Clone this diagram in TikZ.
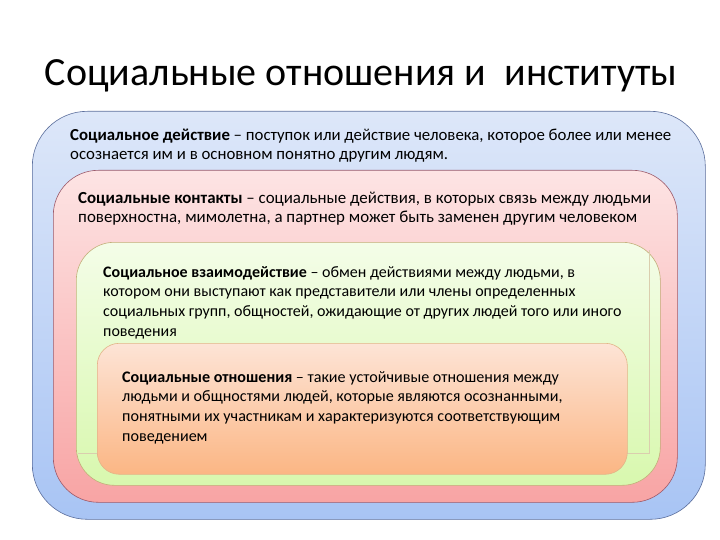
\documentclass[tikz,border=0pt]{standalone}
\usepackage{fontspec}
\setmainfont{Carlito}
\definecolor{bluetop}{HTML}{DDE7F9}
\definecolor{bluebot}{HTML}{A8C4F4}
\definecolor{blueline}{HTML}{5B6E9C}
\definecolor{pinktop}{HTML}{FDE4E4}
\definecolor{pinkbot}{HTML}{F8A4A4}
\definecolor{pinkline}{HTML}{9C5A6A}
\definecolor{greentop}{HTML}{F4FDE8}
\definecolor{greenbot}{HTML}{D8F8AE}
\definecolor{greenline}{HTML}{C2AE78}
\definecolor{orangetop}{HTML}{FDE4D6}
\definecolor{orangebot}{HTML}{FBB684}
\definecolor{orangeline}{HTML}{E2B488}
\newcommand{\toprule}{\rule{0pt}{14pt}}
\tikzset{
  layer/.style={anchor=north west, inner sep=0pt, draw, line width=0.6pt},
  deftext/.style={anchor=north west, inner sep=0pt, align=left,
    font=\fontsize{#1}{19.6}\selectfont}
}
\begin{document}
\begin{tikzpicture}[x=1pt,y=-1pt]
    \useasboundingbox (0,0) rectangle (720,540);
    \fill[white] (0,0) rectangle (720,540);

    \node[font=\fontsize{40}{48}\selectfont, anchor=base] (title) at (361,86) {Социальные отношения и \ институты};

    \node[layer, blueline, top color=bluetop, bottom color=bluebot, rounded corners=55pt,
        minimum width=673pt, minimum height=408pt] (action) at (32,111) {};
    \node[layer, pinkline, top color=pinktop, bottom color=pinkbot, rounded corners=45pt,
        minimum width=624pt, minimum height=332pt] (contact) at (53,170) {};
    \node[layer, greenline, top color=greentop, bottom color=greenbot, rounded corners=38pt,
        minimum width=584pt, minimum height=243pt] (interact) at (76,242) {};
    % frame of the text box inside the green layer
    \draw[greenline!60, line width=0.5pt] (649,250) -- (649,453) -- (78,453);
    \node[layer, orangeline, top color=orangetop, bottom color=orangebot, rounded corners=22pt,
        minimum width=530pt, minimum height=131pt] (relation) at (97,343) {};

    \node[deftext=16.8] (actiontext) at (70,126) {\toprule\textbf{Социальное действие} – поступок или действие человека, которое более или менее\\
        осознается им и в основном понятно другим людям.};
    \node[deftext=16.9] (contacttext) at (78,189) {\toprule\textbf{Социальные контакты} – социальные действия, в которых связь между людьми\\
        поверхностна, мимолетна, а партнер может быть заменен другим человеком};
    \node[deftext=16.0] (interacttext) at (103,263) {\toprule\textbf{Социальное взаимодействие} – обмен действиями между людьми, в\\
        котором они выступают как представители или члены определенных\\
        социальных групп, общностей, ожидающие от других людей того или иного\\
        поведения};
    \node[deftext=16.1] (relationtext) at (122,368) {\toprule\textbf{Социальные отношения} – такие устойчивые отношения между\\
        людьми и общностями людей, которые являются осознанными,\\
        понятными их участникам и характеризуются соответствующим\\
        поведением};
\end{tikzpicture}
\end{document}
